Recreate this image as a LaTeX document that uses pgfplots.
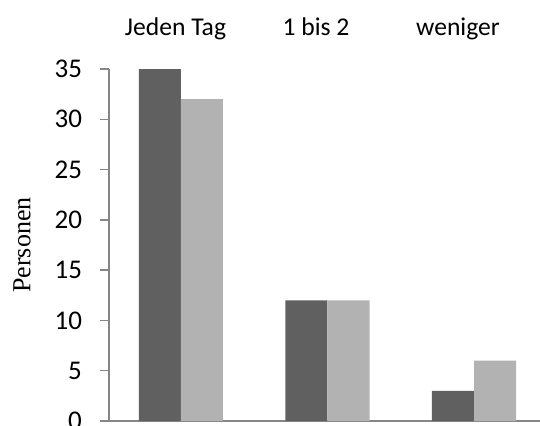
\documentclass[border=0pt]{standalone}
\usepackage{pgfplots}
\pgfplotsset{compat=1.18}
\usepackage{fontspec}
\setmainfont{Carlito}
\newfontfamily\serifont{Liberation Serif}

\definecolor{darkbar}{HTML}{606060}
\definecolor{lightbar}{HTML}{B2B2B2}
\definecolor{axgray}{HTML}{868686}

\begin{document}
\begin{tikzpicture}
\begin{axis}[
    scale only axis,
    width=215.5pt, height=176pt,
    xmin=-0.49, xmax=2.45,
    ymin=0, ymax=35,
    ytick={0,5,...,35},
    xtick=\empty,
    axis x line*=bottom,
    axis y line*=left,
    axis line style={axgray, line width=0.75pt, -},
    tick align=outside,
    major tick length=4.5pt,
    tick style={axgray, line width=0.75pt},
    ybar, bar width=0.287,
    /pgf/number format/assume math mode=true,
    yticklabel style={font=\fontsize{13.5}{15}\selectfont, xshift=-5.5pt},
    clip=false,
]
\addplot[fill=darkbar, draw=none, bar shift=-0.1435] coordinates {(0,35) (1,12) (2,3)};
\addplot[fill=lightbar, draw=none, bar shift=0.1435] coordinates {(0,32) (1,12) (2,6)};
\coordinate (O) at (rel axis cs:0,0);
\end{axis}
\begin{scope}[font=\fontsize{12.8}{15}\selectfont]
\node[anchor=base] at ([xshift=33.25pt, yshift=193pt]O) {Jeden Tag};
\node[anchor=base] at ([xshift=103.5pt, yshift=193pt]O) {1 bis 2};
\node[anchor=base] at ([xshift=174.5pt, yshift=193pt]O) {weniger};
\end{scope}
\node[rotate=90, font=\serifont\fontsize{13}{15}\selectfont] at ([xshift=-43.5pt, yshift=88pt]O) {Personen};
\pgfresetboundingbox
\path ([xshift=-54.5pt, yshift=-2pt]O) rectangle ([xshift=215.5pt, yshift=210.5pt]O);
\end{tikzpicture}
\end{document}
